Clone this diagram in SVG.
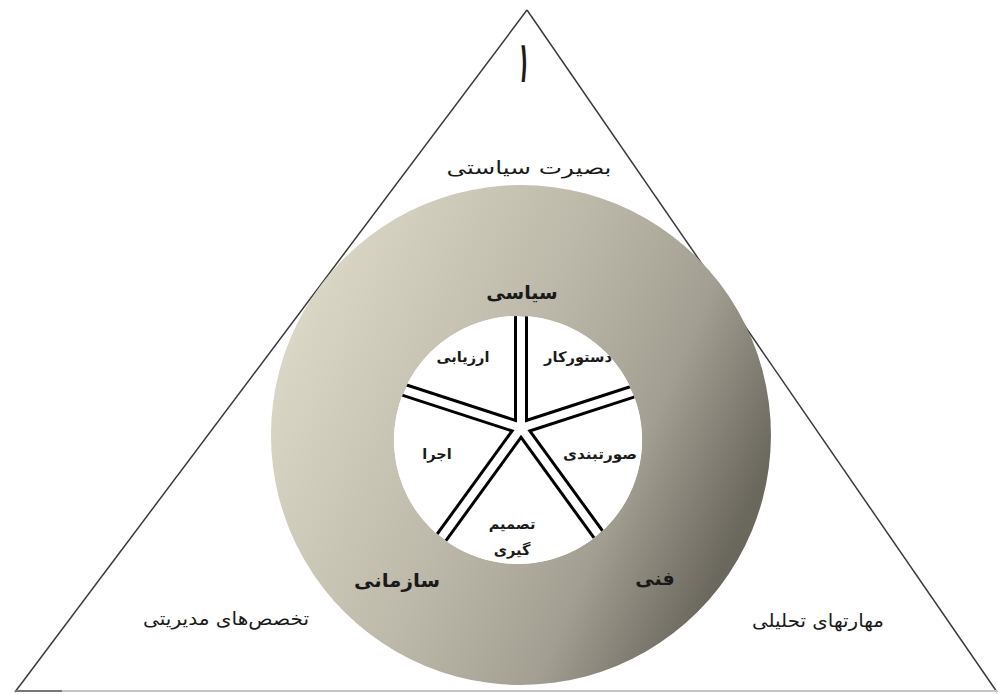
<svg xmlns="http://www.w3.org/2000/svg" width="998" height="694" viewBox="0 0 998 694">
  <defs>
    <linearGradient id="ringGrad" x1="0.1" y1="0.15" x2="1" y2="0.55">
      <stop offset="0" stop-color="#dbd7c6"/>
      <stop offset="0.45" stop-color="#bdb9aa"/>
      <stop offset="0.75" stop-color="#a29e91"/>
      <stop offset="1" stop-color="#6a675d"/>
    </linearGradient>
    <clipPath id="innerClip">
      <circle cx="518" cy="440" r="124"/>
    </clipPath>
    <style>
      .fa { font-family: "DejaVu Sans", "Noto Sans", sans-serif; fill: #1a1a1a; text-anchor: middle; }
      .outer { font-size: 18px; }
      .inner { font-size: 14.5px; font-weight: bold; }
      .ringlbl { font-size: 19px; font-weight: bold; }
      .spokeB { stroke: #000; stroke-width: 14; fill: none; }
      .spokeW { stroke: #fff; stroke-width: 8; fill: none; }
    </style>
  </defs>
  <rect width="998" height="694" fill="#ffffff"/>

  <g id="triangle">
    <line x1="15" y1="692" x2="527" y2="10" stroke="#3a3a3a" stroke-width="1.5"/>
    <line x1="527" y1="10" x2="997" y2="692" stroke="#3a3a3a" stroke-width="1.5"/>
    <line x1="15" y1="691" x2="997" y2="691" stroke="#c4c4c4" stroke-width="2"/>
    <line x1="15" y1="691" x2="62" y2="691" stroke="#777" stroke-width="2"/>
    <text class="fa" x="0" y="0" font-size="58" transform="translate(522 82) skewX(-6) scale(0.6 1)">۱</text>
  </g>

  <g id="ring">
    <path d="M 521 185 A 250 250 0 1 1 520.9 185 Z M 518 316 A 124 124 0 1 0 518.1 316 Z" fill="url(#ringGrad)" fill-rule="evenodd"/>
    <circle cx="518" cy="440" r="124" fill="#ffffff"/>
  </g>

  <g id="connectors" clip-path="url(#innerClip)">
    <g transform="translate(521 428)">
      <line class="spokeB" x1="0" y1="0" x2="0" y2="-160"/>
      <line class="spokeB" x1="0" y1="0" x2="0" y2="-160" transform="rotate(72)"/>
      <line class="spokeB" x1="0" y1="0" x2="0" y2="-160" transform="rotate(144)"/>
      <line class="spokeB" x1="0" y1="0" x2="0" y2="-160" transform="rotate(216)"/>
      <line class="spokeB" x1="0" y1="0" x2="0" y2="-160" transform="rotate(288)"/>
      <line class="spokeW" x1="0" y1="0" x2="0" y2="-170"/>
      <line class="spokeW" x1="0" y1="0" x2="0" y2="-170" transform="rotate(72)"/>
      <line class="spokeW" x1="0" y1="0" x2="0" y2="-170" transform="rotate(144)"/>
      <line class="spokeW" x1="0" y1="0" x2="0" y2="-170" transform="rotate(216)"/>
      <line class="spokeW" x1="0" y1="0" x2="0" y2="-170" transform="rotate(288)"/>
    </g>
  </g>

  <g id="node-basirat"><text class="fa outer" x="529" y="174" textLength="165" lengthAdjust="spacingAndGlyphs">بصیرت سیاستی</text></g>
  <g id="node-siasi"><text class="fa ringlbl" x="522" y="299">سیاسی</text></g>
  <g id="node-sazmani"><text class="fa ringlbl" x="397" y="587" textLength="86" lengthAdjust="spacingAndGlyphs">سازمانی</text></g>
  <g id="node-fanni"><text class="fa ringlbl" x="655" y="585">فنی</text></g>
  <g id="node-arzyabi"><text class="fa inner" x="463" y="362" textLength="53" lengthAdjust="spacingAndGlyphs">ارزیابی</text></g>
  <g id="node-dastoorkar"><text class="fa inner" x="578" y="362" textLength="68" lengthAdjust="spacingAndGlyphs">دستورکار</text></g>
  <g id="node-ejra"><text class="fa inner" x="437" y="459">اجرا</text></g>
  <g id="node-soorat"><text class="fa inner" x="600" y="459" textLength="74" lengthAdjust="spacingAndGlyphs">صورتبندی</text></g>
  <g id="node-tasmim">
    <text class="fa inner" x="512" y="529">تصمیم</text>
    <text class="fa inner" x="512" y="555">گیری</text>
  </g>
  <g id="node-takhasos"><text class="fa outer" x="226" y="625" textLength="166" lengthAdjust="spacingAndGlyphs">تخصص‌های مدیریتی</text></g>
  <g id="node-maharat"><text class="fa outer" x="818" y="627" textLength="132" lengthAdjust="spacingAndGlyphs">مهارتهای تحلیلی</text></g>
</svg>
